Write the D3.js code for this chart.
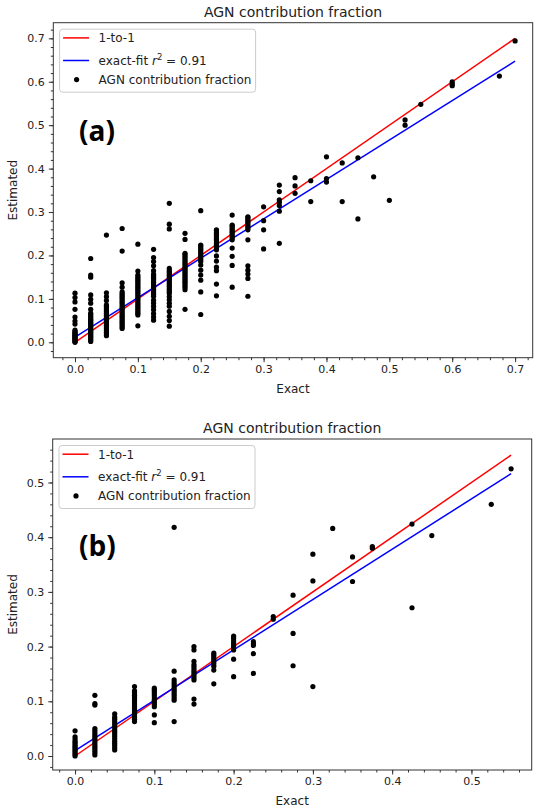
<!DOCTYPE html>
<html lang="en">
  <head>
    <meta charset="UTF-8" />
    <title>AGN contribution fraction</title>
    <script src="https://d3js.org/d3.v7.min.js"></script>
    <style>
      body {
        margin: 0;
        background: white;
        font-family: "DejaVu Sans", sans-serif;
      }
      .tick text {
        font-family: "DejaVu Sans", sans-serif;
        font-size: 11px;
        fill: #222;
      }
      .tick line {
        stroke: #333;
      }
    </style>
  </head>
  <body>
    <svg id="chart" width="534" height="810"></svg>
    <script>
      // Panel (a): exact values and the estimated values found at each of them
      const exactA = [0, 0.025, 0.05, 0.075, 0.1, 0.125, 0.15, 0.175, 0.2, 0.225, 0.25, 0.275, 0.3,
        0.325, 0.35, 0.375, 0.4, 0.425, 0.45, 0.475, 0.5, 0.525, 0.55, 0.6, 0.675, 0.7];
      const estA = [
        [0.000, 0.002, 0.004, 0.006, 0.008, 0.010, 0.012, 0.014, 0.016, 0.018, 0.020, 0.022, 0.025, 0.028, 0.042, 0.049, 0.058, 0.076, 0.093, 0.103, 0.113],
        [0.002, 0.005, 0.008, 0.011, 0.014, 0.017, 0.020, 0.023, 0.026, 0.029, 0.032, 0.035, 0.038, 0.041, 0.044, 0.047, 0.050, 0.053, 0.056, 0.060, 0.064, 0.067, 0.076, 0.090, 0.099, 0.109, 0.150, 0.155, 0.193],
        [0.015, 0.019, 0.023, 0.027, 0.031, 0.035, 0.039, 0.043, 0.047, 0.051, 0.055, 0.059, 0.063, 0.067, 0.071, 0.075, 0.079, 0.083, 0.086, 0.096, 0.105, 0.114, 0.247],
        [0.032, 0.036, 0.040, 0.044, 0.048, 0.052, 0.056, 0.060, 0.064, 0.068, 0.072, 0.076, 0.080, 0.084, 0.088, 0.092, 0.096, 0.100, 0.104, 0.108, 0.112, 0.116, 0.127, 0.137, 0.210, 0.262],
        [0.038, 0.063, 0.067, 0.071, 0.075, 0.079, 0.083, 0.087, 0.091, 0.095, 0.099, 0.103, 0.107, 0.111, 0.115, 0.119, 0.123, 0.127, 0.131, 0.135, 0.139, 0.143, 0.147, 0.151, 0.155, 0.164, 0.226],
        [0.051, 0.058, 0.066, 0.075, 0.083, 0.090, 0.097, 0.106, 0.110, 0.114, 0.118, 0.122, 0.126, 0.130, 0.134, 0.138, 0.142, 0.146, 0.150, 0.154, 0.157, 0.165, 0.176, 0.186, 0.195, 0.214],
        [0.037, 0.050, 0.060, 0.071, 0.083, 0.090, 0.098, 0.105, 0.113, 0.117, 0.121, 0.125, 0.129, 0.133, 0.137, 0.141, 0.145, 0.149, 0.153, 0.157, 0.161, 0.165, 0.170, 0.261, 0.272, 0.320],
        [0.076, 0.121, 0.126, 0.130, 0.134, 0.138, 0.142, 0.146, 0.150, 0.154, 0.158, 0.162, 0.166, 0.170, 0.174, 0.178, 0.182, 0.186, 0.190, 0.194, 0.198, 0.202, 0.205, 0.237, 0.251],
        [0.064, 0.116, 0.143, 0.155, 0.166, 0.178, 0.186, 0.190, 0.194, 0.198, 0.202, 0.206, 0.210, 0.214, 0.218, 0.222, 0.224, 0.303],
        [0.107, 0.134, 0.165, 0.173, 0.187, 0.199, 0.213, 0.217, 0.221, 0.225, 0.229, 0.233, 0.237, 0.241, 0.245, 0.249, 0.253, 0.257, 0.259],
        [0.127, 0.177, 0.198, 0.217, 0.236, 0.240, 0.244, 0.248, 0.252, 0.256, 0.260, 0.264, 0.268, 0.270, 0.293],
        [0.106, 0.147, 0.157, 0.166, 0.176, 0.236, 0.259, 0.263, 0.267, 0.271, 0.275, 0.279, 0.283, 0.287, 0.289],
        [0.215, 0.259, 0.280, 0.312],
        [0.228, 0.302, 0.315, 0.322, 0.328, 0.347, 0.362],
        [0.343, 0.360, 0.379],
        [0.324, 0.372],
        [0.369, 0.377, 0.427],
        [0.324, 0.413],
        [0.284, 0.425],
        [0.381],
        [0.327],
        [0.500, 0.512],
        [0.548],
        [0.591, 0.595, 0.600],
        [0.613],
        [0.694]
      ];
      const fitA = { intercept: 0.012, slope: 0.908 };
      const lineSpanA = [0, 0.7];
      const ticksA = [0, 0.1, 0.2, 0.3, 0.4, 0.5, 0.6, 0.7];

      // Panel (b)
      const exactB = [0, 0.025, 0.05, 0.075, 0.1, 0.125, 0.15, 0.175, 0.2, 0.225, 0.25, 0.275, 0.3,
        0.325, 0.35, 0.375, 0.425, 0.45, 0.525, 0.55];
      const estB = [
        [0.000, 0.003, 0.006, 0.009, 0.012, 0.015, 0.018, 0.021, 0.024, 0.027, 0.031, 0.035, 0.046],
        [0.002, 0.006, 0.010, 0.014, 0.018, 0.022, 0.026, 0.030, 0.034, 0.038, 0.042, 0.046, 0.050, 0.093, 0.096, 0.111],
        [0.011, 0.015, 0.019, 0.023, 0.027, 0.031, 0.035, 0.039, 0.043, 0.047, 0.051, 0.055, 0.059, 0.063, 0.067, 0.071, 0.077],
        [0.063, 0.067, 0.071, 0.075, 0.079, 0.083, 0.087, 0.091, 0.095, 0.099, 0.103, 0.107, 0.111, 0.115, 0.119, 0.127],
        [0.061, 0.075, 0.090, 0.094, 0.098, 0.102, 0.106, 0.110, 0.114, 0.118, 0.121, 0.124],
        [0.063, 0.102, 0.106, 0.110, 0.114, 0.118, 0.122, 0.126, 0.130, 0.134, 0.139, 0.155, 0.418],
        [0.095, 0.104, 0.139, 0.143, 0.147, 0.151, 0.155, 0.159, 0.163, 0.167, 0.173, 0.194, 0.200],
        [0.132, 0.157, 0.164, 0.168, 0.172, 0.176, 0.180, 0.184, 0.188],
        [0.145, 0.177, 0.194, 0.198, 0.202, 0.206, 0.210, 0.215, 0.219],
        [0.151, 0.187, 0.202, 0.205, 0.209],
        [0.250, 0.255],
        [0.165, 0.224, 0.294],
        [0.127, 0.320, 0.369],
        [0.416],
        [0.319, 0.364],
        [0.380, 0.383],
        [0.271, 0.424],
        [0.403],
        [0.460],
        [0.525]
      ];
      const fitB = { intercept: 0.010, slope: 0.920 };
      const lineSpanB = [0, 0.55];
      const ticksB = [0, 0.1, 0.2, 0.3, 0.4, 0.5];

      const legendLabels = ["1-to-1", "exact-fit", "AGN contribution fraction"];
      const r2Text = "0.91";
      const titleText = "AGN contribution fraction";

      const svg = d3.select("#chart");

      function drawPanel(o) {
        const x = d3.scaleLinear().domain(o.xDomain).range([o.left, o.right]);
        const y = d3.scaleLinear().domain(o.yDomain).range([o.bottom, o.top]);
        const g = svg.append("g");

        // minor ticks every 0.02
        const minorX = d3.range(-0.02, o.xDomain[1], 0.02).filter((v) => v >= o.xDomain[0]);
        const minorY = d3.range(-0.02, o.yDomain[1], 0.02).filter((v) => v >= o.yDomain[0]);
        g.append("g")
          .attr("transform", `translate(0,${o.bottom})`)
          .call(d3.axisBottom(x).tickValues(minorX).tickSize(2.5).tickFormat(""))
          .call((s) => s.select(".domain").remove());
        g.append("g")
          .attr("transform", `translate(${o.left},0)`)
          .call(d3.axisLeft(y).tickValues(minorY).tickSize(2.5).tickFormat(""))
          .call((s) => s.select(".domain").remove());

        g.append("g")
          .attr("transform", `translate(0,${o.bottom})`)
          .call(d3.axisBottom(x).tickValues(o.ticks).tickSize(4.5).tickPadding(3).tickFormat(d3.format(".1f")))
          .call((s) => s.select(".domain").remove());
        g.append("g")
          .attr("transform", `translate(${o.left},0)`)
          .call(d3.axisLeft(y).tickValues(o.ticks).tickSize(4.5).tickPadding(4).tickFormat(d3.format(".1f")))
          .call((s) => s.select(".domain").remove());

        // frame
        g.append("rect")
          .attr("x", o.left)
          .attr("y", o.top)
          .attr("width", o.right - o.left)
          .attr("height", o.bottom - o.top)
          .attr("fill", "none")
          .attr("stroke", "#333")
          .attr("stroke-width", 1);

        // one-to-one and fit lines
        const line = d3.line().x((d) => x(d[0])).y((d) => y(d[1]));
        g.append("path")
          .datum(o.span.map((v) => [v, v]))
          .attr("fill", "none")
          .attr("stroke", "#ff0000")
          .attr("stroke-width", 1.5)
          .attr("d", line);
        g.append("path")
          .datum(o.span.map((v) => [v, o.fit.intercept + o.fit.slope * v]))
          .attr("fill", "none")
          .attr("stroke", "#0000ff")
          .attr("stroke-width", 1.5)
          .attr("d", line);

        const pts = o.exact.flatMap((ex, i) => o.est[i].map((e) => ({ ex, e })));
        g.selectAll(".pt")
          .data(pts)
          .join("circle")
          .attr("class", "pt")
          .attr("cx", (d) => x(d.ex))
          .attr("cy", (d) => y(d.e))
          .attr("r", 2.6)
          .attr("fill", "#000");

        // title and axis labels
        g.append("text")
          .attr("x", (o.left + o.right) / 2)
          .attr("y", o.top - 6)
          .attr("text-anchor", "middle")
          .attr("font-size", 14)
          .attr("fill", "#222")
          .text(titleText);
        g.append("text")
          .attr("x", (o.left + o.right) / 2)
          .attr("y", o.bottom + 35)
          .attr("text-anchor", "middle")
          .attr("font-size", 12)
          .attr("fill", "#222")
          .text("Exact");
        g.append("text")
          .attr("transform", `translate(17,${(o.top + o.bottom) / 2}) rotate(-90)`)
          .attr("text-anchor", "middle")
          .attr("font-size", 12)
          .attr("fill", "#222")
          .text("Estimated");

        // panel letter
        g.append("text")
          .attr("x", 79)
          .attr("y", o.letterY)
          .attr("font-family", "'Open Sans', sans-serif")
          .attr("font-weight", "bold")
          .attr("font-size", 28)
          .attr("fill", "#000")
          .text(o.letter);

        // legend
        const lx = o.left + 6.3;
        const ly = o.top + 6.5;
        const lg = g.append("g").attr("transform", `translate(${lx},${ly})`);
        lg.append("rect")
          .attr("width", 196)
          .attr("height", 63)
          .attr("rx", 3)
          .attr("fill", "white")
          .attr("fill-opacity", 0.8)
          .attr("stroke", "#ccc");
        const rows = [8.7, 31.3, 50.4];
        lg.append("line").attr("x1", 3.5).attr("x2", 29.5).attr("y1", rows[0]).attr("y2", rows[0])
          .attr("stroke", "#ff0000").attr("stroke-width", 1.5);
        lg.append("line").attr("x1", 3.5).attr("x2", 29.5).attr("y1", rows[1]).attr("y2", rows[1])
          .attr("stroke", "#0000ff").attr("stroke-width", 1.5);
        lg.append("circle").attr("cx", 17).attr("cy", rows[2]).attr("r", 2.6).attr("fill", "#000");
        lg.append("text").attr("x", 39).attr("y", rows[0] + 4.3).attr("font-size", 12).attr("fill", "#222")
          .text(legendLabels[0]);
        const t2 = lg.append("text").attr("x", 39).attr("y", rows[1] + 4.3).attr("font-size", 12).attr("fill", "#222");
        t2.append("tspan").text(legendLabels[1] + " ");
        t2.append("tspan").attr("font-style", "italic").text("r");
        t2.append("tspan").attr("font-size", 8.5).attr("dy", -5).text("2");
        t2.append("tspan").attr("dy", 5).text(" = " + r2Text);
        lg.append("text").attr("x", 39).attr("y", rows[2] + 4.3).attr("font-size", 12).attr("fill", "#222")
          .text(legendLabels[2]);
      }

      drawPanel({
        exact: exactA, est: estA, fit: fitA, span: lineSpanA, ticks: ticksA,
        xDomain: [-0.0345, 0.728], yDomain: [-0.0355, 0.736],
        left: 53.3, right: 532.7, top: 22.7, bottom: 357.7,
        letter: "(a)", letterY: 141
      });
      drawPanel({
        exact: exactB, est: estB, fit: fitB, span: lineSpanB, ticks: ticksB,
        xDomain: [-0.0282, 0.576], yDomain: [-0.0256, 0.5795],
        left: 52.7, right: 531.7, top: 439, bottom: 770,
        letter: "(b)", letterY: 556
      });
    </script>
  </body>
</html>
